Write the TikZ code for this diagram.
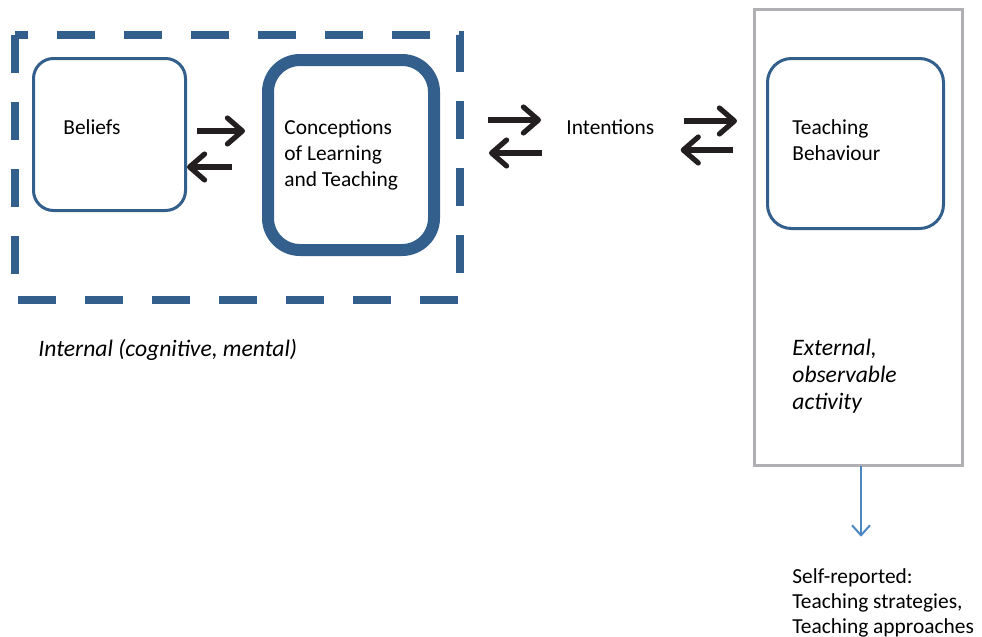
\documentclass[tikz,border=0pt]{standalone}
\usepackage{fontspec}
\setmainfont{Carlito}
\usetikzlibrary{arrows.meta}
\definecolor{boxblue}{RGB}{50,95,140}
\definecolor{framegray}{RGB}{175,175,180}
\definecolor{thinblue}{RGB}{75,135,195}
\definecolor{arrowdark}{RGB}{35,31,32}
\tikzset{
  box/.style={draw=boxblue,line width=1.5pt,outer sep=0pt,inner sep=0pt},
  lbl/.style={anchor=base west,inner sep=0pt,align=left,font=\fontsize{10.7}{13}\selectfont},
  note/.style={lbl,font=\fontsize{11.8}{13.5}\selectfont\itshape},
  pair/.style={draw=arrowdark,line width=2.6pt,-{Straight Barb[length=7.5pt,width=13pt,round]}},
}
\begin{document}
\begin{tikzpicture}[x=0.5pt,y=-0.5pt]
\useasboundingbox (0,0) rectangle (982,637);
%Internal part
\draw[boxblue,line width=4pt,dash pattern=on 19pt off 14.5pt] (14.5,35) rectangle (459.5,300);
\node[box,rounded corners=10pt,minimum width=76pt,minimum height=76pt] (bel) at (109.5,134.5) {};
\node[lbl] (beltxt) at (63,134) {Beliefs};
\node[box,line width=6pt,rounded corners=16pt,minimum width=83pt,minimum height=95pt] (conc) at (351,155) {};
\node[lbl] (conctxt) at (284,186) {Conceptions\\of Learning\\and Teaching};
\node[note] (internal) at (38,356) {Internal (cognitive, mental)};
%Arrows 1,2
\draw[pair,shorten <=5.75pt,shorten >=11.5pt] (bel.east |- 0,131) -- (conc.west |- 0,131);
\draw[pair,shorten <=18pt,shorten >=0.75pt] (conc.west |- 0,167) -- (bel.east |- 0,167);
%Intentions
\node[lbl] (int) at (566,134) {Intentions};
%Arrows 3,4
\draw[pair,shorten <=27pt,shorten >=12.5pt] (conc.east |- 0,120) -- (int.west |- 0,120);
\draw[pair,shorten <=12pt,shorten >=27.5pt] (int.west |- 0,153) -- (conc.east |- 0,153);
%External part
\node[draw=framegray,line width=1.5pt,outer sep=0pt,minimum width=104pt,minimum height=228pt] (ext) at (858.5,237.5) {};
\node[box,rounded corners=12pt,minimum width=88pt,minimum height=85pt] (teach) at (855.5,143.5) {};
\node[lbl] (teachtxt) at (792,160) {Teaching\\Behaviour};
\node[note] (obs) at (792,409) {External,\\observable\\activity};
%Arrows 5,6
\draw[pair,shorten <=14.5pt,shorten >=8.75pt] (int.east |- 0,121) -- (ext.west |- 0,121);
\draw[pair,shorten <=10.75pt,shorten >=13pt] (ext.west |- 0,150) -- (int.east |- 0,150);
%Self-reported
\node[lbl,font=\fontsize{10.7}{12.5}\selectfont] (self) at (792,633) {Self-reported:\\Teaching strategies,\\Teaching approaches};
\draw[thinblue,line width=1pt,-{Straight Barb[length=5pt,width=9pt]},shorten >=15.5pt] (ext.south -| 861,0) -- (self.north -| 861,0);
\end{tikzpicture}
\end{document}
